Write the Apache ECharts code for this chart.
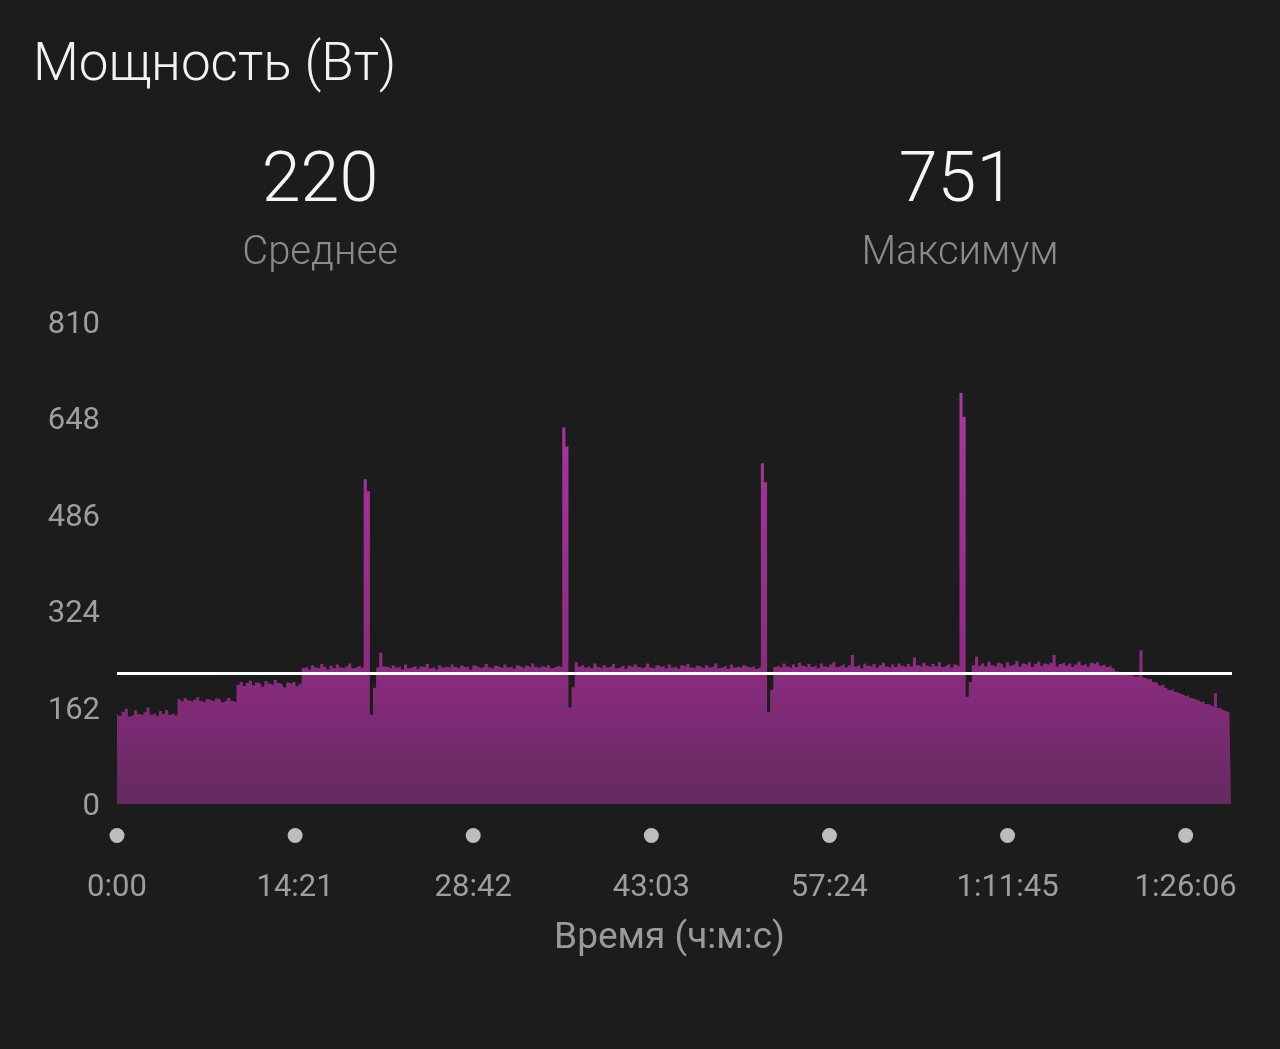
<!DOCTYPE html>
<html>
<head>
<meta charset="utf-8">
<script src="https://cdn.jsdelivr.net/npm/echarts@6/dist/echarts.min.js"></script>
<style>
html,body{margin:0;padding:0;background:#1c1c1c;}
#chart{width:1280px;height:1049px;}
</style>
</head>
<body>
<div id="chart"></div>
<script>
// ---- data ----
var chartTitle = 'Мощность (Вт)';
var avgLabel = 'Среднее';
var maxLabel = 'Максимум';
var avgPower = 220;
var maxPower = 751;
var axisName = 'Время (ч:м:с)';
var yTicks = [0, 162, 324, 486, 648, 810];
var xTickSec = 861;          // 14:21
var durationSec = 5390;
var sampleSec = 15;
// power samples, one every sampleSec seconds
var powerWatts = [
  152,148,155,160,147,150,157,151,149,154,
  162,150,153,148,156,151,158,150,153,149,
  176,172,178,174,171,175,179,173,170,176,
  174,172,177,175,171,174,178,173,170,200,
  205,198,203,207,199,204,201,197,206,202,
  199,208,203,200,196,204,201,205,198,202,
  228,231,226,233,229,227,235,230,226,232,
  228,234,229,227,231,236,228,230,233,229,
  545,525,150,195,229,254,231,230,227,233,
  229,231,226,234,228,230,232,227,231,229,
  235,228,230,226,233,229,231,228,234,230,
  227,232,229,231,226,233,230,228,231,235,
  229,227,232,230,228,234,229,231,227,233,
  230,228,232,229,236,230,227,231,229,233,
  228,230,232,229,632,600,162,196,238,231,
  234,229,232,228,236,230,227,233,229,231,
  235,228,230,233,227,232,229,234,230,228,
  231,236,229,227,233,230,232,228,234,229,
  231,227,233,230,235,229,228,232,230,227,
  233,229,231,236,228,230,232,227,234,229,
  231,228,233,230,229,232,227,230,572,540,
  155,192,230,233,229,236,231,228,234,230,
  237,232,229,235,230,233,228,236,231,229,
  234,238,230,232,235,229,233,250,231,234,
  228,236,232,230,235,229,233,237,231,228,
  234,230,236,232,229,235,231,246,233,230,
  237,232,229,235,231,238,230,233,236,229,
  234,231,690,650,180,205,233,247,232,236,
  231,239,233,230,237,234,229,238,232,235,
  240,231,236,233,238,230,235,239,232,236,
  233,237,250,231,235,238,232,236,230,234,
  239,233,236,231,237,234,238,232,235,230,
  233,228,223,221,219,222,216,218,214,215,
  258,212,209,211,205,203,199,201,195,191,
  193,188,186,184,181,183,178,176,174,171,
  173,168,166,163,186,161,158,156,153,150
];

var seriesData = powerWatts.map(function (w, i) { return [i * sampleSec, w]; });

function fmtTime(sec) {
  var h = Math.floor(sec / 3600);
  var m = Math.floor((sec % 3600) / 60);
  var s = sec % 60;
  var ss = (s < 10 ? '0' : '') + s;
  if (h > 0) return h + ':' + (m < 10 ? '0' : '') + m + ':' + ss;
  return m + ':' + ss;
}
function isTick(v) { return Math.abs(v % xTickSec) < 1e-6; }

var FONT = 'Roboto, "Noto Sans", sans-serif';
var chart = echarts.init(document.getElementById('chart'));
chart.setOption({
  backgroundColor: '#1c1c1c',
  animation: false,
  title: [
    { text: chartTitle, left: 33, top: 40, padding: 0,
      textStyle: { color: '#f2f2f2', fontSize: 53, fontWeight: 300, fontFamily: FONT } },
    { text: String(avgPower), left: 320, top: 148, padding: 0, textAlign: 'center',
      textStyle: { color: '#f5f5f5', fontSize: 70, fontWeight: 300, fontFamily: FONT } },
    { text: avgLabel, left: 320, top: 234, padding: 0, textAlign: 'center',
      textStyle: { color: '#8a8a8a', fontSize: 40, fontWeight: 300, fontFamily: FONT } },
    { text: String(maxPower), left: 957, top: 148, padding: 0, textAlign: 'center',
      textStyle: { color: '#f5f5f5', fontSize: 70, fontWeight: 300, fontFamily: FONT } },
    { text: maxLabel, left: 960, top: 234, padding: 0, textAlign: 'center',
      textStyle: { color: '#8a8a8a', fontSize: 40, fontWeight: 300, fontFamily: FONT } }
  ],
  grid: { left: 117, right: 48, top: 321.5, bottom: 245 },
  xAxis: [
    {
      type: 'value', min: 0, max: durationSec, interval: xTickSec,
      axisLine: { show: false }, axisTick: { show: false }, splitLine: { show: false },
      axisLabel: {
        margin: 24,
        formatter: function (v) { return isTick(v) ? '{d| }' : ''; },
        rich: { d: { width: 15, height: 15, borderRadius: 7.5, backgroundColor: '#bdbdbd' } }
      }
    },
    {
      type: 'value', min: 0, max: durationSec, interval: xTickSec, position: 'bottom',
      axisLine: { show: false }, axisTick: { show: false }, splitLine: { show: false },
      name: axisName, nameLocation: 'middle', nameGap: 116,
      nameTextStyle: { color: '#9a9a9a', fontSize: 37, fontFamily: FONT, padding: [0, 10, 0, 0] },
      axisLabel: {
        margin: 69, color: '#9e9e9e', fontSize: 31, fontFamily: FONT,
        formatter: function (v) { return isTick(v) ? fmtTime(v) : ''; }
      }
    }
  ],
  yAxis: {
    type: 'value', min: yTicks[0], max: yTicks[yTicks.length - 1], interval: yTicks[1] - yTicks[0],
    axisLine: { show: false }, axisTick: { show: false }, splitLine: { show: false },
    axisLabel: {
      margin: 17,
      formatter: function (v) { return '{v|' + v + '}'; },
      rich: { v: { color: '#9e9e9e', fontSize: 31, fontFamily: FONT, padding: [7, 0, 0, 0] } }
    }
  },
  series: [{
    type: 'line',
    xAxisIndex: 0,
    data: seriesData,
    showSymbol: false,
    sampling: null,
    step: 'middle',
    lineStyle: { width: 0, opacity: 0 },
    areaStyle: {
      opacity: 1,
      color: {
        type: 'linear', x: 0, y: 321.5, x2: 0, y2: 804, global: true,
        colorStops: [
          { offset: 0, color: '#b23aa9' },
          { offset: 0.735, color: '#8a2b7f' },
          { offset: 1, color: '#632a5e' }
        ]
      }
    },
    markLine: {
      silent: true,
      symbol: ['none', 'none'],
      label: { show: false },
      lineStyle: { color: '#ffffff', width: 3, type: 'solid' },
      data: [{ yAxis: avgPower }]
    }
  }]
});
</script>
</body>
</html>
